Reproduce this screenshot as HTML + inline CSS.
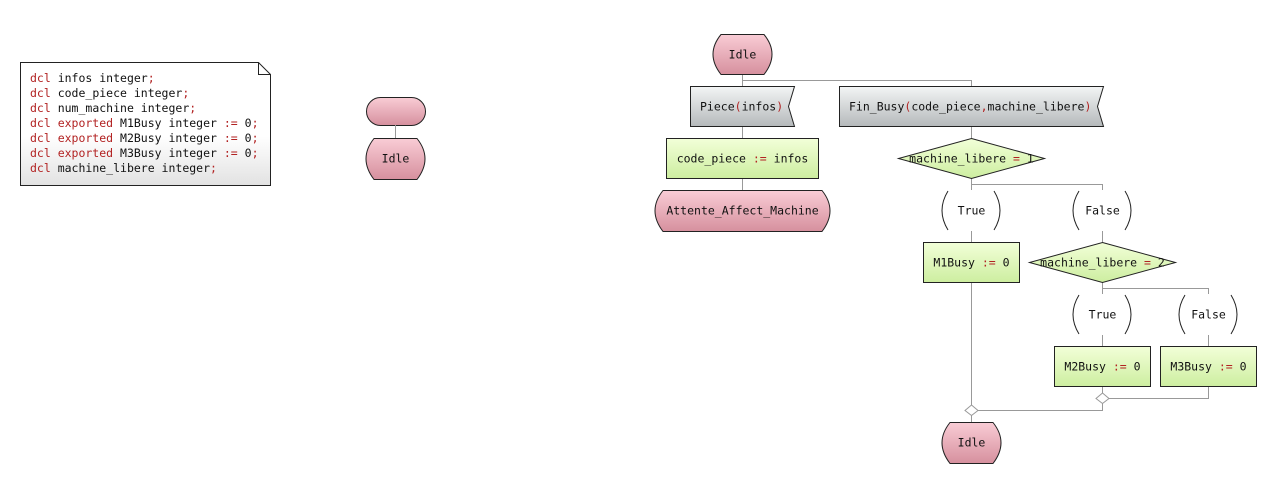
<!DOCTYPE html>
<html><head><meta charset="utf-8"><style>
html,body{margin:0;padding:0;background:#fff;}
svg{display:block;}
text{font-family:"DejaVu Sans Mono","Liberation Mono",monospace;font-size:11.5px;fill:#111;}
.k{fill:#b22222;}
.l{stroke:#999;stroke-width:1;fill:none;}
.s{stroke:#222;stroke-width:1;}
</style></head><body>
<svg width="1272" height="483" viewBox="0 0 1272 483" xmlns="http://www.w3.org/2000/svg">
<defs>
<linearGradient id="gp" x1="0" y1="0" x2="0" y2="1"><stop offset="0" stop-color="#f9ccd5"/><stop offset="1" stop-color="#d6909e"/></linearGradient>
<linearGradient id="gg" x1="0" y1="0" x2="0" y2="1"><stop offset="0" stop-color="#f2ffd8"/><stop offset="1" stop-color="#cdeea0"/></linearGradient>
<linearGradient id="gi" x1="0" y1="0" x2="0" y2="1"><stop offset="0" stop-color="#f3f5f5"/><stop offset="1" stop-color="#b5b9bb"/></linearGradient>
<linearGradient id="gn" x1="0" y1="0" x2="0" y2="1"><stop offset="0" stop-color="#ffffff"/><stop offset="0.6" stop-color="#ffffff"/><stop offset="1" stop-color="#e2e2e2"/></linearGradient>
</defs>

<!-- note -->
<path d="M20.5 62.5 H258.5 L270.5 74.5 V185.5 H20.5 Z" fill="url(#gn)" class="s"/>
<path d="M258.5 62.5 V74.5 H270.5" fill="none" class="s"/>
<text x="30" y="82"><tspan class="k">dcl</tspan> infos integer<tspan class="k">;</tspan></text>
<text x="30" y="97"><tspan class="k">dcl</tspan> code_piece integer<tspan class="k">;</tspan></text>
<text x="30" y="112"><tspan class="k">dcl</tspan> num_machine integer<tspan class="k">;</tspan></text>
<text x="30" y="127"><tspan class="k">dcl exported</tspan> M1Busy integer <tspan class="k">:=</tspan> 0<tspan class="k">;</tspan></text>
<text x="30" y="142"><tspan class="k">dcl exported</tspan> M2Busy integer <tspan class="k">:=</tspan> 0<tspan class="k">;</tspan></text>
<text x="30" y="157"><tspan class="k">dcl exported</tspan> M3Busy integer <tspan class="k">:=</tspan> 0<tspan class="k">;</tspan></text>
<text x="30" y="172"><tspan class="k">dcl</tspan> machine_libere integer<tspan class="k">;</tspan></text>

<!-- start -->
<rect x="366.5" y="97.5" width="59" height="28" rx="14" fill="url(#gp)" class="s"/>
<line x1="395.5" y1="125" x2="395.5" y2="138" class="l"/>
<path d="M374 138.5 H417 Q433 158.5 417 179.5 H374 Q358 158.5 374 138.5 Z" fill="url(#gp)" class="s"/>
<text x="395.5" y="162.5" text-anchor="middle">Idle</text>

<!-- connectors -->
<path class="l" d="M742.5 74 V80.5 H971.5 V86 M742.5 80 V86"/>
<path class="l" d="M742.5 126 V138 M742.5 178 V190"/>
<path class="l" d="M971.5 126 V138 M971.5 178 V184.5 H1102.5 V190 M971.5 184 V190"/>
<path class="l" d="M971.5 231 V242 M1102.5 231 V242"/>
<path class="l" d="M1102.5 282 V288.5 H1208.5 V294 M1102.5 288 V294"/>
<path class="l" d="M1102.5 335 V346 M1208.5 335 V346"/>
<path class="l" d="M1208.5 386 V398.5 H1109 M1102.5 386 V393"/>
<path class="l" d="M1102.5 403 V410.5 H978 M971.5 282 V405 M971.5 415 V422"/>
<path d="M1102.5 393 L1109 398.5 L1102.5 403.5 L1096 398.5 Z" fill="#fff" stroke="#999"/>
<path d="M971.5 405 L978 410.5 L971.5 415.5 L965 410.5 Z" fill="#fff" stroke="#999"/>

<!-- Idle top -->
<path d="M721 34.5 H764 Q780 54 764 74.5 H721 Q705 54 721 34.5 Z" fill="url(#gp)" class="s"/>
<text x="742.5" y="58.5" text-anchor="middle">Idle</text>

<!-- inputs -->
<path d="M690.5 86.5 H794.5 L788.5 106.5 L794.5 126.5 H690.5 Z" fill="url(#gi)" class="s"/>
<text x="700" y="110.5">Piece<tspan class="k">(</tspan>infos<tspan class="k">)</tspan></text>
<path d="M839.5 86.5 H1103.5 L1097.5 106.5 L1103.5 126.5 H839.5 Z" fill="url(#gi)" class="s"/>
<text x="849" y="110.5">Fin_Busy<tspan class="k">(</tspan>code_piece<tspan class="k">,</tspan>machine_libere<tspan class="k">)</tspan></text>

<!-- task -->
<rect x="666.5" y="138.5" width="152" height="40" fill="url(#gg)" class="s"/>
<text x="742.5" y="162.5" text-anchor="middle">code_piece <tspan class="k">:=</tspan> infos</text>

<!-- Attente -->
<path d="M663 190.5 H822 Q838 210.5 822 231.5 H663 Q647 210.5 663 190.5 Z" fill="url(#gp)" class="s"/>
<text x="742.5" y="214.5" text-anchor="middle">Attente_Affect_Machine</text>

<!-- decision 1 -->
<path d="M971.5 138.5 L1044.5 158.5 L971.5 178.5 L898.5 158.5 Z" fill="url(#gg)" class="s"/>
<text x="971.5" y="162.5" text-anchor="middle">machine_libere <tspan class="k">=</tspan> 1</text>

<!-- answers -->
<path class="s" fill="none" d="M948 191 Q936 210.5 948 230 M994 191 Q1006 210.5 994 230"/>
<text x="971.5" y="214.5" text-anchor="middle">True</text>
<path class="s" fill="none" d="M1079 191 Q1067 210.5 1079 230 M1125 191 Q1137 210.5 1125 230"/>
<text x="1102.5" y="214.5" text-anchor="middle">False</text>

<rect x="923.5" y="242.5" width="96" height="40" fill="url(#gg)" class="s"/>
<text x="971.5" y="266.5" text-anchor="middle">M1Busy <tspan class="k">:=</tspan> 0</text>

<path d="M1102.5 242.5 L1175.5 262.5 L1102.5 282.5 L1029.5 262.5 Z" fill="url(#gg)" class="s"/>
<text x="1102.5" y="266.5" text-anchor="middle">machine_libere <tspan class="k">=</tspan> 2</text>

<path class="s" fill="none" d="M1079 295 Q1067 314.5 1079 334 M1125 295 Q1137 314.5 1125 334"/>
<text x="1102.5" y="318.5" text-anchor="middle">True</text>
<path class="s" fill="none" d="M1185 295 Q1173 314.5 1185 334 M1231 295 Q1243 314.5 1231 334"/>
<text x="1208.5" y="318.5" text-anchor="middle">False</text>

<rect x="1054.5" y="346.5" width="96" height="40" fill="url(#gg)" class="s"/>
<text x="1102.5" y="370.5" text-anchor="middle">M2Busy <tspan class="k">:=</tspan> 0</text>
<rect x="1160.5" y="346.5" width="96" height="40" fill="url(#gg)" class="s"/>
<text x="1208.5" y="370.5" text-anchor="middle">M3Busy <tspan class="k">:=</tspan> 0</text>

<!-- Idle end -->
<path d="M950 422.5 H993 Q1009 442.5 993 463.5 H950 Q934 442.5 950 422.5 Z" fill="url(#gp)" class="s"/>
<text x="971.5" y="446.5" text-anchor="middle">Idle</text>
</svg>
</body></html>
